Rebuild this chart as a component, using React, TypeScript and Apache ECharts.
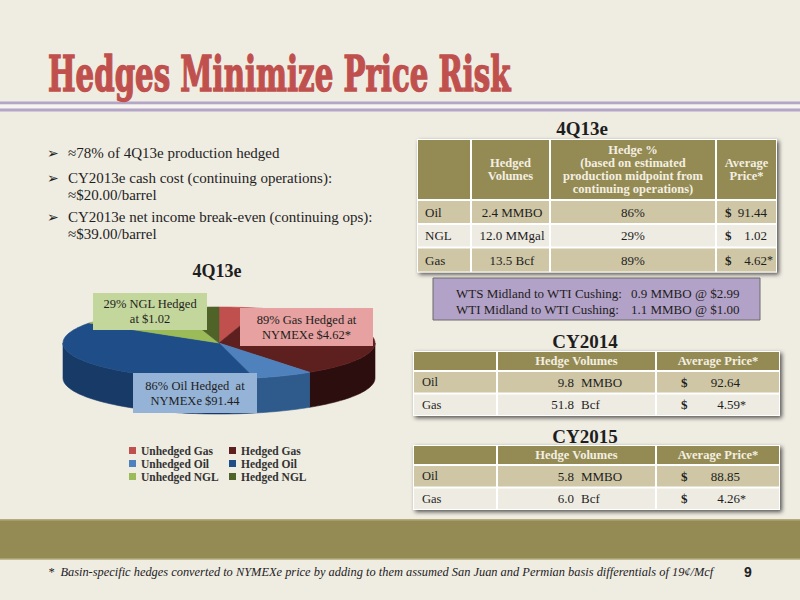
import { useEffect, useRef } from 'react'
import * as echarts from 'echarts'

// 4Q13e production split (% of BOE)
const sliceNames = ['Unhedged Gas', 'Hedged Gas', 'Unhedged Oil', 'Hedged Oil', 'Unhedged NGL', 'Hedged NGL']
const sliceValues = [4.4, 35.7, 6.2, 38.0, 11.1, 4.5]
const sliceColors = ['#C0504D', '#5E201E', '#4F81BD', '#1F4D87', '#9BBB59', '#4F6228']
const sideColors = ['#8E3431', '#2B0E0D', '#2F5A8C', '#173A66', '#6F8A3C', '#36441A']

const calloutTexts = ['29% NGL Hedged\nat $1.02', '89% Gas Hedged at\nNYMEXe $4.62*', '86% Oil Hedged  at\nNYMEXe $91.44']

const bullets = [
  ['≈78% of 4Q13e production hedged'],
  ['CY2013e cash cost (continuing operations):', '≈$20.00/barrel'],
  ['CY2013e net income break-even (continuing ops):', '≈$39.00/barrel'],
]

const q4Header = ['', 'Hedged\nVolumes', 'Hedge %\n(based on estimated\nproduction midpoint from\ncontinuing operations)', 'Average\nPrice*']
const q4Products = ['Oil', 'NGL', 'Gas']
const q4Volumes = ['2.4 MMBO', '12.0 MMgal', '13.5 Bcf']
const q4HedgePct = ['86%', '29%', '89%']
const q4Prices = ['91.44', '1.02', '4.62*']

const basisRoutes = ['WTS Midland to WTI Cushing:', 'WTI Midland to WTI Cushing:']
const basisHedges = ['0.9 MMBO @ $2.99', '1.1 MMBO @ $1.00']

const cyHeader = ['', 'Hedge Volumes', 'Average Price*']
const cyProducts = ['Oil', 'Gas']
const cyUnits = ['MMBO', 'Bcf']
const cy2014Volumes = ['9.8', '51.8']
const cy2014Prices = ['92.64', '4.59*']
const cy2015Volumes = ['5.8', '6.0']
const cy2015Prices = ['88.85', '4.26*']

const titleText = 'Hedges Minimize Price Risk'
const footnote = '*  Basin-specific hedges converted to NYMEXe price by adding to them assumed San Juan and Permian basis differentials of 19¢/Mcf'

const SERIF = '"Liberation Serif", serif'
const OLIVE = '#948A54'
const TAN = '#CEC6A5'
const LIGHT = '#EEEBE2'
const CREAM = '#F3EFE0'
const INK = '#1E1E1E'

const PIE = { cx: 219, cy: 343, rx: 156, ry: 36, depth: 35 }

const font = (size: number, weight = 'normal', style = 'normal', family = SERIF) =>
  `${style} ${weight} ${size}px ${family}`

function measure(text: string, f: string) {
  const ctx = document.createElement('canvas').getContext('2d')
  if (!ctx) return 1
  ctx.font = f
  return ctx.measureText(text).width
}

function txt(text: string, x: number, y: number, o: any = {}) {
  const align = o.align ?? 'left'
  return {
    type: 'text',
    x,
    y,
    z: o.z ?? 20,
    scaleX: o.scaleX ?? 1,
    silent: true,
    style: {
      text,
      font: o.font ?? font(13),
      fill: o.fill ?? INK,
      stroke: o.stroke,
      lineWidth: o.lw ?? 0,
      align,
      textAlign: align,
      verticalAlign: 'middle',
      textVerticalAlign: 'middle',
      lineHeight: o.lh,
    },
  }
}

function box(x: number, y: number, w: number, h: number, fill: string, o: any = {}) {
  return {
    type: 'rect',
    z: o.z ?? 10,
    silent: true,
    shape: { x, y, width: w, height: h },
    style: {
      fill,
      stroke: o.stroke,
      lineWidth: o.lw ?? 0,
      shadowBlur: o.shadow ? 4 : 0,
      shadowOffsetX: o.shadow ? 2 : 0,
      shadowOffsetY: o.shadow ? 2 : 0,
      shadowColor: 'rgba(0,0,0,0.65)',
    },
  }
}

// ellipse point for an angle measured clockwise from 12 o'clock
function pt(deg: number, dy = 0) {
  const r = (deg * Math.PI) / 180
  return [PIE.cx + PIE.rx * Math.sin(r), PIE.cy - PIE.ry * Math.cos(r) + dy]
}

function arc(a: number, b: number, dy = 0) {
  const pts: number[][] = []
  const n = Math.max(2, Math.ceil(Math.abs(b - a) / 2))
  for (let k = 0; k <= n; k++) pts.push(pt(a + ((b - a) * k) / n, dy))
  return pts
}

function cyTable(top: number, volumes: string[], prices: string[]) {
  const cols = [413, 497, 656, 780]
  const heights = [20, 22.5, 22.5]
  const els: any[] = [box(cols[0], top, cols[3] - cols[0], 65, '#FFFFFF', { shadow: true, z: 8 })]
  let y = top
  heights.forEach((h, r) => {
    const fill = r === 0 ? OLIVE : r === 1 ? TAN : LIGHT
    for (let c = 0; c < 3; c++) els.push(box(cols[c] + 1, y + 1, cols[c + 1] - cols[c] - 2, h - 2, fill))
    const cy = y + h / 2
    if (r === 0) {
      els.push(txt(cyHeader[1], (cols[1] + cols[2]) / 2, cy, { align: 'center', font: font(12.5, 'bold'), fill: CREAM }))
      els.push(txt(cyHeader[2], (cols[2] + cols[3]) / 2, cy, { align: 'center', font: font(12.5, 'bold'), fill: CREAM }))
    } else {
      const i = r - 1
      const [num, star] = prices[i].split('*')
      els.push(txt(cyProducts[i], 422, cy, { font: font(12.5) }))
      els.push(txt(volumes[i], 574, cy, { align: 'right', font: font(13) }))
      els.push(txt(cyUnits[i], 581, cy, { font: font(13) }))
      els.push(txt('$', 681, cy, { font: font(13, 'bold') }))
      els.push(txt(num, 740, cy, { align: 'right', font: font(13) }))
      if (star !== undefined) els.push(txt('*', 740, cy, { font: font(12) }))
    }
    y += h
  })
  return els
}

function buildGraphic() {
  const els: any[] = []
  const titleFont = font(48, 'bold', 'normal', '"DejaVu Serif Condensed", "DejaVu Serif", serif')
  const footFont = font(12.5, 'normal', 'italic')

  // title and rules
  els.push(txt(titleText, 48, 75, {
    font: titleFont, fill: '#C0504D', stroke: '#C0504D', lw: 1.4,
    scaleX: 463 / measure(titleText, titleFont),
  }))
  els.push(box(0, 101.5, 800, 3, '#B4A5C9'))
  els.push(box(0, 104.5, 800, 4, '#F6F4EE'))
  els.push(box(0, 108.5, 800, 3, '#B4A5C9'))

  // bullets
  const lineYs = [[153], [178, 195], [217, 234]]
  bullets.forEach((lines, b) => {
    els.push(txt('➢', 47, lineYs[b][0], { font: font(14, 'normal', 'normal', '"DejaVu Sans"') }))
    lines.forEach((l, k) => els.push(txt(l, 68, lineYs[b][k], { font: font(15) })))
  })

  // pie title and callouts
  els.push(txt('4Q13e', 217, 271, { align: 'center', font: font(18, 'bold') }))
  const callouts = [
    { x: 93, y: 293, w: 114, h: 37, fill: '#C3D69B' },
    { x: 240, y: 308, w: 133, h: 38, fill: '#E6A1A0' },
    { x: 133, y: 373, w: 124, h: 40, fill: '#95B3D7' },
  ]
  callouts.forEach((c, i) => {
    els.push(box(c.x, c.y, c.w, c.h, c.fill, { z: 30 }))
    els.push(txt(calloutTexts[i], c.x + c.w / 2, c.y + c.h / 2, { align: 'center', font: font(12.5), lh: 15, z: 31 }))
  })

  // 4Q13e table
  els.push(txt('4Q13e', 582, 128.5, { align: 'center', font: font(19, 'bold') }))
  const cols = [417, 471, 550, 716, 777]
  const heights = [61, 24, 23.5, 25]
  els.push(box(cols[0], 139, cols[4] - cols[0], 133.5, '#FFFFFF', { shadow: true, z: 8 }))
  let y = 139
  heights.forEach((h, r) => {
    const fill = r === 0 ? OLIVE : r === 2 ? LIGHT : TAN
    for (let c = 0; c < 4; c++) els.push(box(cols[c] + 1, y + 1, cols[c + 1] - cols[c] - 2, h - 2, fill))
    const cy = y + h / 2
    if (r === 0) {
      for (let c = 1; c < 4; c++) {
        els.push(txt(q4Header[c], (cols[c] + cols[c + 1]) / 2, cy, { align: 'center', font: font(12.5, 'bold'), fill: CREAM, lh: 13.3 }))
      }
    } else {
      const i = r - 1
      const [num, star] = q4Prices[i].split('*')
      els.push(txt(q4Products[i], 425, cy, { font: font(13) }))
      els.push(txt(q4Volumes[i], 512, cy, { align: 'center', font: font(13) }))
      els.push(txt(q4HedgePct[i], 633, cy, { align: 'center', font: font(13) }))
      els.push(txt('$', 725, cy, { font: font(13, 'bold') }))
      els.push(txt(num, 767, cy, { align: 'right', font: font(13) }))
      if (star !== undefined) els.push(txt('*', 767, cy, { font: font(12) }))
    }
    y += h
  })

  // basis differential box
  els.push(box(433, 278, 327, 42, '#B3A2C7', { stroke: '#6B6B6B', lw: 1 }))
  basisRoutes.forEach((r, i) => {
    els.push(txt(r, 456, 293.5 + i * 16, { font: font(13) }))
    els.push(txt(basisHedges[i], 631, 293.5 + i * 16, { font: font(13) }))
  })

  // CY tables
  els.push(txt('CY2014', 585, 341.5, { align: 'center', font: font(19, 'bold') }))
  els.push(...cyTable(351, cy2014Volumes, cy2014Prices))
  els.push(txt('CY2015', 585, 436.5, { align: 'center', font: font(19, 'bold') }))
  els.push(...cyTable(445, cy2015Volumes, cy2015Prices))

  // footer band
  els.push(box(0, 519, 800, 41, OLIVE))
  els.push(box(0, 519, 800, 1.5, '#B5AC7E'))
  els.push(box(0, 558.5, 800, 1.5, '#C2BA92'))
  els.push(txt(footnote, 48, 572, { font: footFont, fill: '#222', scaleX: 666 / measure(footnote, footFont) }))
  els.push(txt('9', 748, 572, { align: 'center', font: font(14, 'bold', 'normal', '"Liberation Sans"'), fill: '#222' }))

  return els
}

function buildOption() {
  const total = sliceValues.reduce((s, v) => s + v, 0)
  let acc = 0
  const spans = sliceValues.map((v) => {
    const a0 = (acc / total) * 360
    acc += v
    return [a0, (acc / total) * 360]
  })

  const legendCommon = {
    orient: 'vertical',
    top: 444,
    icon: 'rect',
    itemWidth: 7,
    itemHeight: 7,
    itemGap: 0,
    padding: 0,
    selectedMode: false,
    textStyle: { fontFamily: 'Liberation Serif', fontWeight: 'bold', fontSize: 11.5, color: '#333', lineHeight: 13 },
  }

  return {
    animation: false,
    backgroundColor: '#EFECE2',
    legend: [
      { ...legendCommon, left: 129, data: sliceNames.filter((_, i) => i % 2 === 0) },
      { ...legendCommon, left: 229, data: sliceNames.filter((_, i) => i % 2 === 1) },
    ],
    graphic: { elements: buildGraphic() },
    series: sliceNames.map((name, i) => ({
      type: 'custom',
      name,
      coordinateSystem: 'none',
      itemStyle: { color: sliceColors[i] },
      data: [[spans[i][0], spans[i][1], sliceValues[i]]],
      renderItem: (_params: any, api: any) => {
        const a0 = api.value(0) as number
        const a1 = api.value(1) as number
        const children: any[] = []
        const s = Math.max(a0, 90)
        const e = Math.min(a1, 270)
        if (e > s) {
          children.push({
            type: 'polygon',
            shape: { points: [...arc(s, e), ...arc(e, s, PIE.depth)] },
            style: { fill: sideColors[i], stroke: sideColors[i], lineWidth: 0.6 },
          })
        }
        children.push({
          type: 'polygon',
          shape: { points: [[PIE.cx, PIE.cy], ...arc(a0, a1)] },
          style: { fill: sliceColors[i], stroke: sliceColors[i], lineWidth: 0.6 },
        })
        return { type: 'group', children }
      },
    })),
  }
}

export default function App() {
  const chartRef = useRef<HTMLDivElement>(null)

  useEffect(() => {
    if (!chartRef.current) return
    const chart = echarts.init(chartRef.current, null, { renderer: 'svg' })
    chart.setOption(buildOption())
    return () => chart.dispose()
  }, [])

  return <div ref={chartRef} style={{ position: 'absolute', left: 0, top: 0, width: 800, height: 600 }} />
}
